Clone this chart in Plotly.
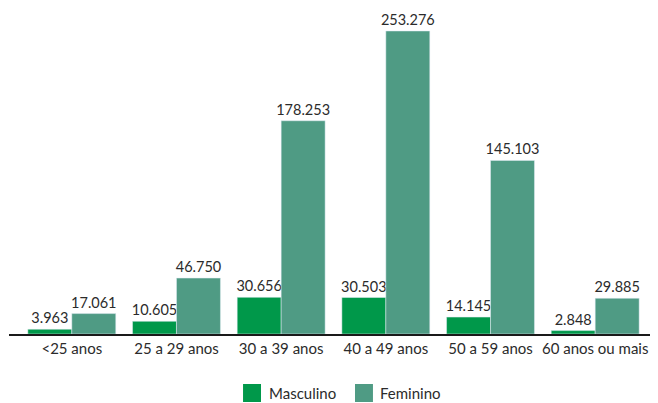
import plotly.graph_objects as go

categorias = ["<25 anos", "25 a 29 anos", "30 a 39 anos", "40 a 49 anos", "50 a 59 anos", "60 anos ou mais"]
masculino = [3963, 10605, 30656, 30503, 14145, 2848]
feminino = [17061, 46750, 178253, 253276, 145103, 29885]
series = ["Masculino", "Feminino"]

cor_m = "#00984a"
cor_f = "#4f9b84"
fonte = dict(family="Lato, Noto Sans, sans-serif", size=15, color="#2b2b2b")
fonte_val = dict(family="Lato, Noto Sans, sans-serif", size=14.5, color="#2b2b2b")

fig = go.Figure()
fig.add_trace(go.Bar(name=series[0], x=categorias, y=masculino, marker_color=cor_m,
                     texttemplate="%{y:,}", textposition="outside", cliponaxis=False,
                     constraintext="none", textfont=fonte_val, showlegend=False))
fig.add_trace(go.Bar(name=series[1], x=categorias, y=feminino, marker_color=cor_f,
                     texttemplate="%{y:,}", textposition="outside", cliponaxis=False,
                     constraintext="none", textfont=fonte_val, showlegend=False))

# legenda manual com quadrados maiores
leg = [(series[0], cor_m, 0.3606, 0.3975), (series[1], cor_f, 0.5331, 0.5686)]
for nome, cor, xq, xt in leg:
    fig.add_shape(type="rect", xref="paper", yref="paper", x0=xq, x1=xq + 0.0277,
                  y0=-0.2112, y1=-0.1553, fillcolor=cor, line_width=0)
    fig.add_annotation(xref="paper", yref="paper", x=xt, y=-0.1832, text=nome,
                       showarrow=False, xanchor="left", yanchor="middle", font=fonte)

fig.update_layout(
    width=658, height=403,
    barmode="group", bargap=0.16, bargroupgap=0,
    separators=",.",
    plot_bgcolor="white", paper_bgcolor="white",
    margin=dict(l=1, r=8, t=4, b=77),
    font=fonte,
    showlegend=False,
    xaxis=dict(range=[-0.6, 5.6], showline=True, linecolor="#1a1a1a", linewidth=2,
               ticks="", tickfont=fonte, showgrid=False),
    yaxis=dict(range=[0, 269150], visible=False, showgrid=False),
)

fig.write_html("out.html")
